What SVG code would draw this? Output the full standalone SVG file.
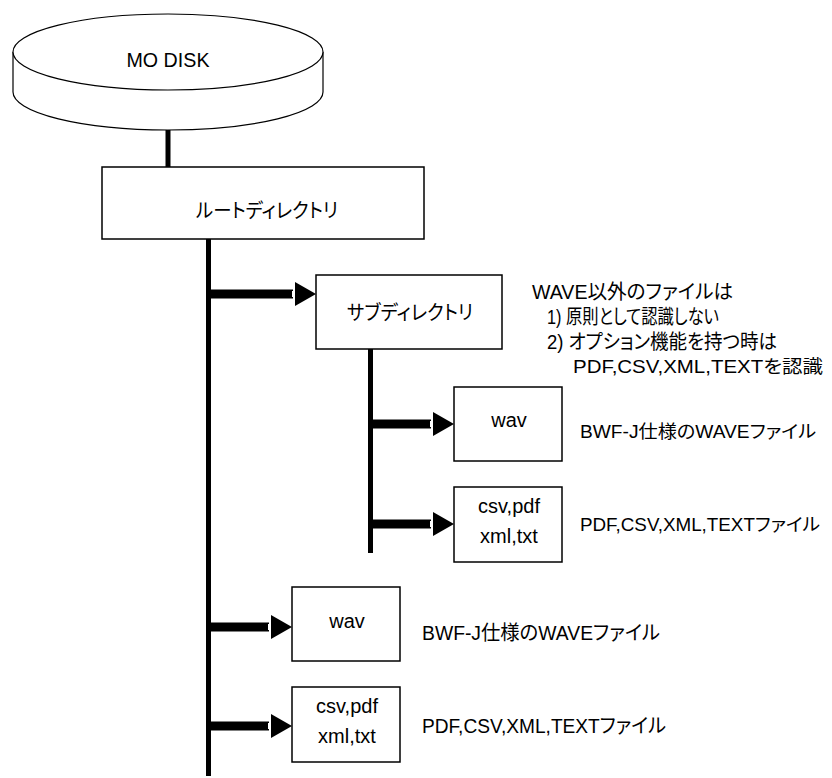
<svg xmlns="http://www.w3.org/2000/svg" width="832" height="778" viewBox="0 0 832 778">
  <style>
    .box { fill: #fff; stroke: #000; stroke-width: 1.5; }
    .disk { fill: #fff; stroke: #000; stroke-width: 1.2; }
    .txt { font-family: "Liberation Sans", "Noto Sans CJK JP", sans-serif; font-size: 20px; fill: #000; font-feature-settings: "palt" 1; }
    .sm { font-size: 18px; }
    .mid { text-anchor: middle; }
    .trunk { stroke: #000; stroke-width: 5; fill: none; }
    .shaft { stroke: #000; stroke-width: 9; fill: none; }
  </style>
  <defs>
    <!-- block arrow head, tip at the origin -->
    <g id="head">
      <polygon points="-21,-12 0,0 -21,12" fill="#000"/>
      <rect x="-24" y="-3" width="3" height="6" fill="#fff"/>
    </g>
  </defs>

  <rect width="832" height="778" fill="#fff"/>

  <!-- connectors -->
  <g id="connectors">
    <line class="trunk" x1="168" y1="129" x2="168" y2="168"/>
    <line class="trunk" x1="208.5" y1="239" x2="208.5" y2="776"/>
    <line class="trunk" x1="370.5" y1="349" x2="370.5" y2="553"/>

    <line class="shaft" x1="208" y1="294" x2="293" y2="294"/>
    <use href="#head" x="316" y="294"/>

    <line class="shaft" x1="370" y1="424" x2="431" y2="424"/>
    <use href="#head" x="454" y="424"/>

    <line class="shaft" x1="370" y1="524" x2="431" y2="524"/>
    <use href="#head" x="454" y="524"/>

    <line class="shaft" x1="208" y1="627" x2="269" y2="627"/>
    <use href="#head" x="292" y="627"/>

    <line class="shaft" x1="208" y1="726" x2="269" y2="726"/>
    <use href="#head" x="292" y="726"/>
  </g>

  <!-- storage disk -->
  <g id="disk">
    <path class="disk" d="M13,52 L13,92 A155,38 0 0 0 323,92 L323,52"/>
    <ellipse class="disk" cx="168" cy="52" rx="155" ry="38"/>
    <text class="txt mid" x="168" y="67" textLength="83" lengthAdjust="spacingAndGlyphs">MO DISK</text>
  </g>

  <g id="root">
    <rect class="box" x="102" y="167" width="322" height="72"/>
    <text class="txt" x="196" y="218" textLength="142" lengthAdjust="spacingAndGlyphs">ルートディレクトリ</text>
  </g>

  <g id="subdir">
    <rect class="box" x="316" y="275" width="186" height="74"/>
    <text class="txt" x="347" y="320" textLength="126" lengthAdjust="spacingAndGlyphs">サブディレクトリ</text>
  </g>

  <g id="subdir-note">
    <text class="txt" x="532" y="299" textLength="201" lengthAdjust="spacingAndGlyphs">WAVE以外のファイルは</text>
    <text class="txt" x="547" y="324" textLength="172" lengthAdjust="spacingAndGlyphs">1) 原則として認識しない</text>
    <text class="txt" x="547" y="349" textLength="230" lengthAdjust="spacingAndGlyphs">2) オプション機能を持つ時は</text>
    <text class="txt sm" x="573" y="373" textLength="250" lengthAdjust="spacingAndGlyphs">PDF,CSV,XML,TEXTを認識</text>
  </g>

  <g id="sub-wav">
    <rect class="box" x="454" y="387" width="108" height="74"/>
    <text class="txt mid" x="509" y="427">wav</text>
    <text class="txt sm" x="580" y="438" textLength="236" lengthAdjust="spacingAndGlyphs">BWF-J仕様のWAVEファイル</text>
  </g>

  <g id="sub-docs">
    <rect class="box" x="454" y="487" width="108" height="75"/>
    <text class="txt mid" x="509" y="513">csv,pdf</text>
    <text class="txt mid" x="509" y="543">xml,txt</text>
    <text class="txt sm" x="580" y="531" textLength="240" lengthAdjust="spacingAndGlyphs">PDF,CSV,XML,TEXTファイル</text>
  </g>

  <g id="root-wav">
    <rect class="box" x="292" y="587" width="108" height="74"/>
    <text class="txt mid" x="347" y="628">wav</text>
    <text class="txt" x="422" y="640" textLength="238" lengthAdjust="spacingAndGlyphs">BWF-J仕様のWAVEファイル</text>
  </g>

  <g id="root-docs">
    <rect class="box" x="292" y="687" width="108" height="75"/>
    <text class="txt mid" x="347" y="713">csv,pdf</text>
    <text class="txt mid" x="347" y="743">xml,txt</text>
    <text class="txt" x="422" y="733" textLength="244" lengthAdjust="spacingAndGlyphs">PDF,CSV,XML,TEXTファイル</text>
  </g>
</svg>
